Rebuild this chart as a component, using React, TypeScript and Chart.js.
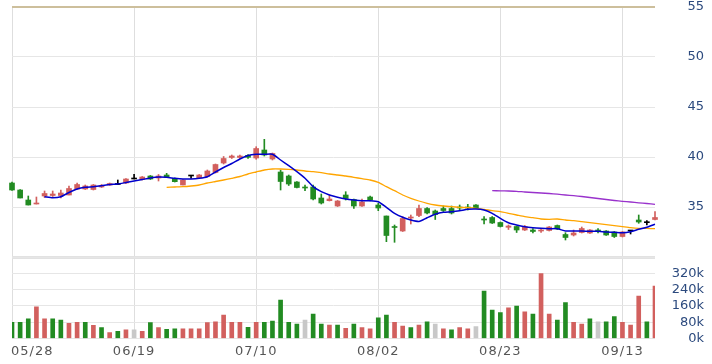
import React, { useEffect, useRef } from 'react';
import { Chart, registerables } from 'chart.js';

Chart.register(...registerables);

// x-axis tick labels (trading-day index -> date)
const tickIndex = [0, 15, 30, 45, 60, 75];
const tickLabels = ['05/28', '06/19', '07/10', '08/02', '08/23', '09/13'];

const opens = [
  37.4, 36.7, 35.7, 35.3, 36.1, 36.15, 36.15, 36.2, 36.8, 36.8,
  36.75, 37.0, 37.2, 37.25, 37.4, 37.8, 37.75, 38.1, 37.9, 38.2,
  37.87, 37.2, 38.1, 37.93, 38.05, 38.45, 39.4, 39.95, 39.95, 40.17,
  39.9, 40.7, 39.8, 38.5, 38.1, 37.5, 36.95, 37.0, 35.9, 35.63,
  35.1, 36.2, 35.75, 35.1, 36.0, 35.2, 34.1, 33.05, 32.6, 33.9,
  34.15, 34.85, 34.6, 34.85, 34.85, 34.95, 34.95, 35.2, 33.75, 33.95,
  33.45, 32.97, 33.05, 32.7, 32.7, 32.6, 32.65, 33.15, 32.25, 32.2,
  32.45, 32.4, 32.65, 32.6, 32.5, 32.05, 32.6, 33.7, 33.43, 33.75,
];
const highs = [
  37.5, 36.75, 36.1, 36.0, 36.6, 36.6, 36.7, 37.1, 37.4, 37.2,
  37.25, 37.25, 37.4, 37.7, 37.85, 38.27, 38.05, 38.15, 38.25, 38.37,
  37.9, 37.75, 38.1, 38.25, 38.7, 39.3, 40.05, 40.2, 40.2, 40.25,
  41.03, 41.77, 40.4, 38.7, 38.2, 37.55, 37.2, 37.2, 36.3, 36.2,
  35.65, 36.53, 35.8, 35.8, 36.1, 35.37, 34.1, 33.2, 34.03, 34.2,
  35.2, 34.95, 34.7, 35.1, 35.1, 35.2, 35.27, 35.25, 34.03, 34.05,
  33.5, 33.2, 33.1, 33.15, 32.85, 32.85, 33.05, 33.2, 32.43, 32.7,
  33.0, 32.75, 32.85, 32.65, 32.55, 32.55, 32.6, 34.2, 33.63, 34.53,
];
const lows = [
  36.65, 35.9, 35.2, 35.3, 35.95, 36.05, 35.9, 36.2, 36.75, 36.75,
  36.7, 36.95, 37.15, 37.25, 37.35, 37.8, 37.7, 37.75, 37.6, 37.95,
  37.5, 37.2, 37.87, 37.9, 38.0, 38.4, 39.3, 39.85, 39.85, 39.85,
  39.77, 40.1, 39.7, 36.7, 37.15, 36.9, 36.63, 35.7, 35.3, 35.6,
  35.05, 35.7, 34.87, 35.05, 35.6, 34.63, 31.53, 31.47, 32.55, 33.3,
  34.03, 34.3, 33.75, 34.55, 34.3, 34.7, 34.7, 34.85, 33.3, 33.35,
  33.0, 32.75, 32.45, 32.65, 32.4, 32.45, 32.6, 32.75, 31.7, 32.1,
  32.4, 32.35, 32.4, 32.15, 31.95, 32.0, 32.3, 33.37, 33.2, 33.7,
];
const closes = [
  36.7, 35.9, 35.2, 35.35, 36.35, 36.3, 36.4, 36.85, 37.25, 37.1,
  37.2, 37.15, 37.35, 37.25, 37.8, 37.8, 38.0, 37.8, 38.1, 37.97,
  37.53, 37.7, 38.1, 38.2, 38.6, 39.25, 39.85, 40.1, 40.1, 39.97,
  40.85, 40.2, 40.35, 37.55, 37.3, 36.95, 36.9, 35.8, 35.4, 35.8,
  35.6, 35.85, 35.1, 35.5, 35.7, 34.9, 32.15, 32.95, 33.85, 34.0,
  34.85, 34.4, 34.25, 34.65, 34.4, 34.9, 34.9, 34.9, 33.7, 33.4,
  33.05, 33.1, 32.7, 33.03, 32.55, 32.65, 33.0, 32.8, 31.95, 32.4,
  32.85, 32.7, 32.6, 32.2, 32.05, 32.5, 32.6, 33.5, 33.43, 33.95,
];

// volume in thousands of shares
const volumes = [
  79, 79, 96, 156, 96, 96, 91, 74, 79, 79,
  65, 53, 29, 35, 42, 42, 35, 78, 53, 45,
  47, 47, 47, 47, 78, 82, 115, 79, 79, 55,
  79, 79, 86, 189, 79, 71, 91, 120, 71, 66,
  66, 50, 71, 53, 47, 102, 115, 79, 61, 53,
  66, 82, 71, 47, 42, 53, 47, 58, 233, 140,
  127, 151, 159, 131, 120, 319, 120, 91, 176, 79,
  71, 96, 82, 82, 107, 79, 66, 208, 82, 257,
];
// 1 = up day (red), -1 = down day (green), 0 = unchanged (grey)
const volDir = [
  -1, -1, -1, 1, 1, -1, -1, 1, 1, -1,
  1, -1, 1, -1, 1, 0, 1, -1, 1, -1,
  -1, 1, 1, 1, 1, 1, 1, 1, 1, -1,
  1, -1, -1, -1, -1, -1, 0, -1, -1, 1,
  -1, 1, -1, 1, 1, -1, -1, 1, 1, -1,
  1, -1, 0, 1, -1, 1, 1, 0, -1, -1,
  -1, 1, -1, 1, -1, 1, 1, -1, -1, 1,
  1, -1, 0, -1, -1, 1, 1, 1, -1, 1,
];

const ma5 = [
  null, null, null, null, 36.03, 35.93, 36.03, 36.45, 36.8, 36.97,
  37.03, 37.13, 37.25, 37.3, 37.45, 37.6, 37.75, 37.9, 38.0, 37.97,
  37.87, 37.8, 37.8, 37.87, 38.03, 38.5, 38.95, 39.35, 39.8, 40.15,
  40.27, 40.27, 40.27, 39.7, 39.13, 38.53, 37.87, 37.03, 36.53, 36.2,
  35.97, 35.8, 35.7, 35.63, 35.63, 35.53, 34.97, 34.37, 33.97, 33.7,
  33.55, 33.93, 34.28, 34.47, 34.53, 34.63, 34.77, 34.8, 34.7, 34.37,
  33.87, 33.43, 33.2, 33.03, 32.93, 32.87, 32.83, 32.83, 32.6, 32.6,
  32.6, 32.57, 32.57, 32.5, 32.47, 32.43, 32.53, 32.77, 32.97, 33.27,
];
const ma20 = [
  null, null, null, null, null, null, null, null, null, null,
  null, null, null, null, null, null, null, null, null, 36.97,
  37.0, 37.03, 37.1, 37.2, 37.4, 37.55, 37.7, 37.87, 38.05, 38.3,
  38.5, 38.7, 38.8, 38.8, 38.77, 38.7, 38.6, 38.53, 38.43, 38.3,
  38.2, 38.1, 37.97, 37.83, 37.7, 37.47, 37.03, 36.63, 36.2, 35.87,
  35.6, 35.37, 35.2, 35.1, 35.03, 34.97, 34.93, 34.87, 34.77, 34.63,
  34.53, 34.37, 34.2, 34.03, 33.93, 33.8, 33.77, 33.8, 33.7, 33.63,
  33.53, 33.43, 33.33, 33.23, 33.13, 33.03, 32.93, 32.87, 32.87, 32.83,
];
const ma60 = [
  null, null, null, null, null, null, null, null, null, null,
  null, null, null, null, null, null, null, null, null, null,
  null, null, null, null, null, null, null, null, null, null,
  null, null, null, null, null, null, null, null, null, null,
  null, null, null, null, null, null, null, null, null, null,
  null, null, null, null, null, null, null, null, null, 36.63,
  36.62, 36.6, 36.57, 36.5, 36.45, 36.4, 36.35, 36.28, 36.2, 36.13,
  36.05, 35.95, 35.85, 35.75, 35.65, 35.57, 35.5, 35.42, 35.35, 35.27,
];

const UP = '#d2605e';
const DOWN = '#228b22';
const FLAT = '#000000';
const VOL_FLAT = '#c8c8c8';

export default function App() {
  const ref = useRef<HTMLCanvasElement | null>(null);

  useEffect(() => {
    document.body.style.margin = '0';
    const canvas = ref.current;
    if (!canvas) return;

    const candleColor = opens.map((o, i) =>
      closes[i] > o ? UP : closes[i] < o ? DOWN : FLAT
    );
    const volColor = volDir.map((d) => (d > 0 ? UP : d < 0 ? DOWN : VOL_FLAT));
    const labels = opens.map((_, i) => String(i));

    const xLabelPlugin = {
      id: 'xLabels',
      afterDraw(chart: any) {
        const ctx = chart.ctx;
        const xs = chart.scales.x;
        ctx.save();
        ctx.font = '13px "DejaVu Sans"';
        (ctx as any).letterSpacing = '1px';
        ctx.fillStyle = '#555555';
        ctx.textBaseline = 'middle';
        ctx.textAlign = 'left';
        tickIndex.forEach((idx, k) => {
          const x = xs.getPixelForValue(idx);
          const w = ctx.measureText(tickLabels[k]).width;
          let left = x - w / 2;
          if (left < 11) left = 11;
          if (left + w > 712) left = 712 - w;
          ctx.fillText(tickLabels[k], left, 352);
        });
        ctx.restore();
      },
    };

    const noPad = (scale: any) => {
      scale.width = 49;
      scale.paddingTop = 0;
      scale.paddingBottom = 0;
    };

    const chart = new Chart(canvas, {
      type: 'bar',
      data: {
        labels,
        datasets: [
          {
            type: 'line',
            label: 'MA5',
            data: ma5,
            yAxisID: 'y',
            borderColor: '#0000cc',
            borderWidth: 1.5,
            pointRadius: 0,
            tension: 0.2,
            order: 0,
          } as any,
          {
            type: 'line',
            label: 'MA20',
            data: ma20,
            yAxisID: 'y',
            borderColor: '#ffa500',
            borderWidth: 1.3,
            pointRadius: 0,
            tension: 0.2,
            order: 1,
          } as any,
          {
            type: 'line',
            label: 'MA60',
            data: ma60,
            yAxisID: 'y',
            borderColor: '#9932cc',
            borderWidth: 1.3,
            pointRadius: 0,
            tension: 0.2,
            order: 2,
          } as any,
          {
            label: 'body',
            data: opens.map((o, i) => [Math.min(o, closes[i]), Math.max(o, closes[i])]) as any,
            yAxisID: 'y',
            backgroundColor: candleColor,
            barThickness: 5,
            minBarLength: 1,
            grouped: false,
            clip: false as any,
            order: 3,
          },
          {
            label: 'wick',
            data: lows.map((l, i) => [l, highs[i]]) as any,
            yAxisID: 'y',
            backgroundColor: candleColor,
            barThickness: 1,
            grouped: false,
            clip: false as any,
            order: 4,
          },
          {
            label: 'volume',
            data: volumes.map((v) => v * 1000),
            yAxisID: 'yv',
            backgroundColor: volColor,
            barThickness: 4,
            grouped: false,
            order: 5,
          },
        ],
      },
      options: {
        responsive: false,
        animation: false,
        events: [],
        layout: { padding: { left: 12, top: 7, right: 8, bottom: 25.5 } },
        plugins: {
          legend: { display: false },
          tooltip: { enabled: false },
        },
        scales: {
          x: {
            type: 'category',
            offset: false,
            grid: {
              offset: false,
              color: '#dedede',
              lineWidth: 1,
              drawTicks: false,
            },
            border: { display: false },
            ticks: { display: false },
            afterBuildTicks: (scale: any) => {
              scale.ticks = tickIndex.map((v) => ({ value: v }));
            },
            afterFit: (scale: any) => {
              scale.height = 0;
              scale.paddingLeft = 0;
              scale.paddingRight = 0;
            },
          },
          y: {
            type: 'linear',
            position: 'right',
            stack: 'panes',
            stackWeight: 250,
            min: 30,
            max: 55,
            grid: {
              color: (c: any) =>
                c.tick && c.tick.value === 55
                  ? '#cdbf9c'
                  : c.tick && c.tick.value === 30
                  ? '#e2e2e2'
                  : '#e6e6e6',
              lineWidth: (c: any) =>
                c.tick && c.tick.value === 55 ? 2 : c.tick && c.tick.value === 30 ? 3 : 1,
              drawTicks: false,
            },
            border: { display: false },
            ticks: {
              stepSize: 5,
              autoSkip: false,
              crossAlign: 'far',
              padding: 4,
              color: '#2c4a7e',
              font: { family: '"DejaVu Sans"', size: 13 },
              callback: (v: any) => (Number(v) === 30 ? '' : String(v)),
            },
            afterFit: noPad,
          },
          yv: {
            type: 'linear',
            position: 'right',
            stack: 'panes',
            stackWeight: 81.5,
            min: 0,
            max: 400000,
            grid: {
              color: '#e6e6e6',
              lineWidth: 1,
              drawTicks: false,
            },
            border: { display: false },
            ticks: {
              stepSize: 80000,
              autoSkip: false,
              crossAlign: 'far',
              padding: 4,
              color: '#2c4a7e',
              font: { family: '"DejaVu Sans"', size: 13 },
              callback: (v: any) => (Number(v) >= 400000 ? '' : Number(v) / 1000 + 'k'),
            },
            afterFit: noPad,
          },
        },
      } as any,
      plugins: [xLabelPlugin],
    });

    return () => {
      chart.destroy();
    };
  }, []);

  return (
    <div style={{ position: 'relative', width: 712, height: 364, background: '#ffffff' }}>
      <canvas ref={ref} width={712} height={364} style={{ display: 'block' }} />
    </div>
  );
}
